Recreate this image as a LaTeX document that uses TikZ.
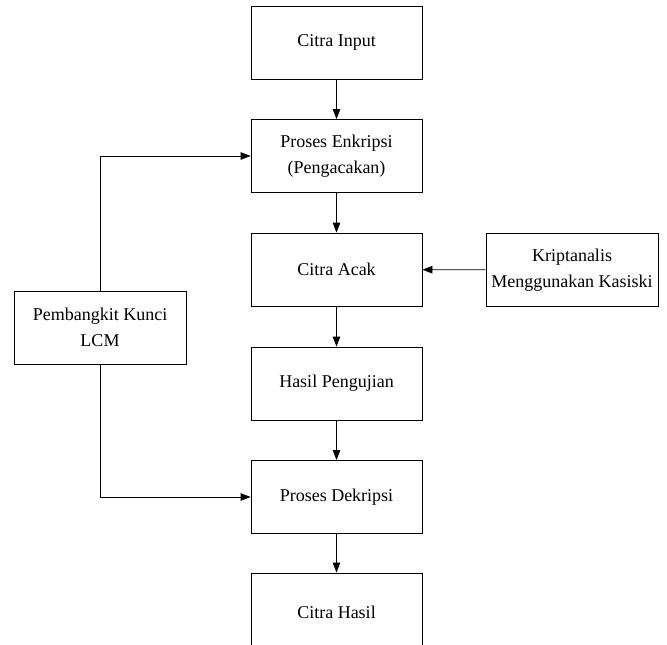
\documentclass[tikz,border=0pt]{standalone}
\usepackage{fontspec}
\setmainfont{Liberation Serif}
\usetikzlibrary{arrows.meta}
\begin{document}
\begin{tikzpicture}[x=1pt,y=-1pt,
  box/.style={draw=black,line width=0.8pt,minimum width=171pt,minimum height=73pt,align=center,inner sep=0pt,font=\fontsize{18}{26}\selectfont},
  arr/.style={line width=0.8pt,-{Triangle[length=10pt,width=7.5pt]}}]
\useasboundingbox (0,0) rectangle (667,645);
\clip (0,0) rectangle (667,645);
\node[box] (input) at (336.5,42.5) {Citra Input};
\node[box] (enk) at (336.5,156) {Proses Enkripsi\\(Pengacakan)};
\node[box] (acak) at (336.5,269.5) {Citra Acak};
\node[box] (uji) at (336.5,383.5) {Hasil Pengujian};
\node[box] (dek) at (336.5,497) {Proses Dekripsi};
\node[box,minimum height=78pt] (hasil) at (336.5,612) {Citra Hasil};
\node[box,minimum width=172pt] (lcm) at (100,327.5) {Pembangkit Kunci\\LCM};
\node[box,minimum width=172pt] (kas) at (572,270) {Kriptanalis\\Menggunakan Kasiski};
\draw[arr] (input) -- (enk);
\draw[arr] (enk) -- (acak);
\draw[arr] (acak) -- (uji);
\draw[arr] (uji) -- (dek);
\draw[arr] (dek) -- (hasil);
\draw[arr] (kas) -- (acak);
\draw[arr] (lcm.north) |- (enk.west);
\draw[arr] (lcm.south) |- (dek.west);
\end{tikzpicture}
\end{document}
